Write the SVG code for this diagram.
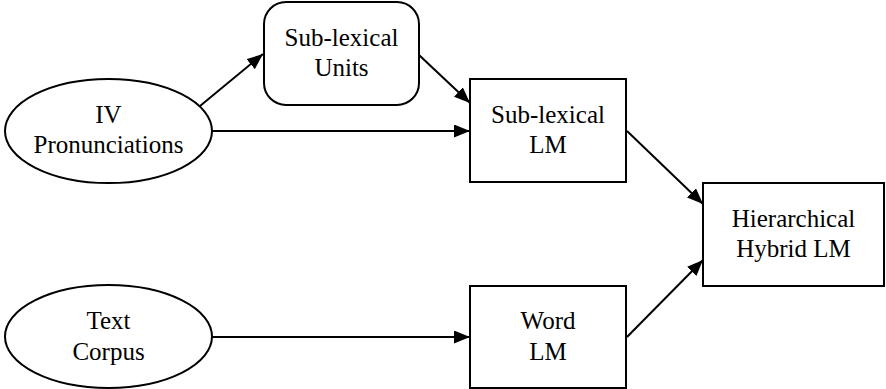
<svg xmlns="http://www.w3.org/2000/svg" width="886" height="389" viewBox="0 0 886 389">
<style>
.n{fill:#fff;stroke:#000;stroke-width:2}
.t{font-family:"Liberation Serif","Times New Roman",serif;font-size:25px;fill:#000;text-anchor:middle}
.e{fill:none;stroke:#000;stroke-width:2}
</style>
<defs>
<marker id="a" markerUnits="userSpaceOnUse" markerWidth="17" markerHeight="13" refX="16" refY="6.5" orient="auto">
<path d="M0,0 L16,6.5 L0,13 Z" fill="#000"/>
</marker>
</defs>
<g id="connectors">
<line class="e" x1="200" y1="106" x2="263" y2="54" marker-end="url(#a)"/>
<line class="e" x1="212" y1="131" x2="470" y2="131" marker-end="url(#a)"/>
<line class="e" x1="419" y1="55" x2="470" y2="103" marker-end="url(#a)"/>
<line class="e" x1="627" y1="131" x2="703" y2="204" marker-end="url(#a)"/>
<line class="e" x1="212" y1="337" x2="470" y2="337" marker-end="url(#a)"/>
<line class="e" x1="627" y1="337" x2="703" y2="260" marker-end="url(#a)"/>
</g>
<g id="iv">
<ellipse class="n" cx="108.5" cy="131" rx="103.5" ry="52"/>
<text class="t" x="108.5" y="123">IV</text>
<text class="t" x="108.5" y="153">Pronunciations</text>
</g>
<g id="units">
<rect class="n" x="264" y="2" width="155" height="103" rx="22"/>
<text class="t" x="341.5" y="46">Sub-lexical</text>
<text class="t" x="341.5" y="76">Units</text>
</g>
<g id="sublm">
<rect class="n" x="470" y="79" width="156" height="103"/>
<text class="t" x="548" y="123">Sub-lexical</text>
<text class="t" x="548" y="153">LM</text>
</g>
<g id="hybrid">
<rect class="n" x="703" y="183" width="181" height="103"/>
<text class="t" x="793.5" y="227">Hierarchical</text>
<text class="t" x="793.5" y="257">Hybrid LM</text>
</g>
<g id="corpus">
<ellipse class="n" cx="108.5" cy="336.5" rx="103.5" ry="51.5"/>
<text class="t" x="108.5" y="329">Text</text>
<text class="t" x="108.5" y="360">Corpus</text>
</g>
<g id="wordlm">
<rect class="n" x="470" y="286" width="156" height="102"/>
<text class="t" x="548" y="329">Word</text>
<text class="t" x="548" y="360">LM</text>
</g>
</svg>
